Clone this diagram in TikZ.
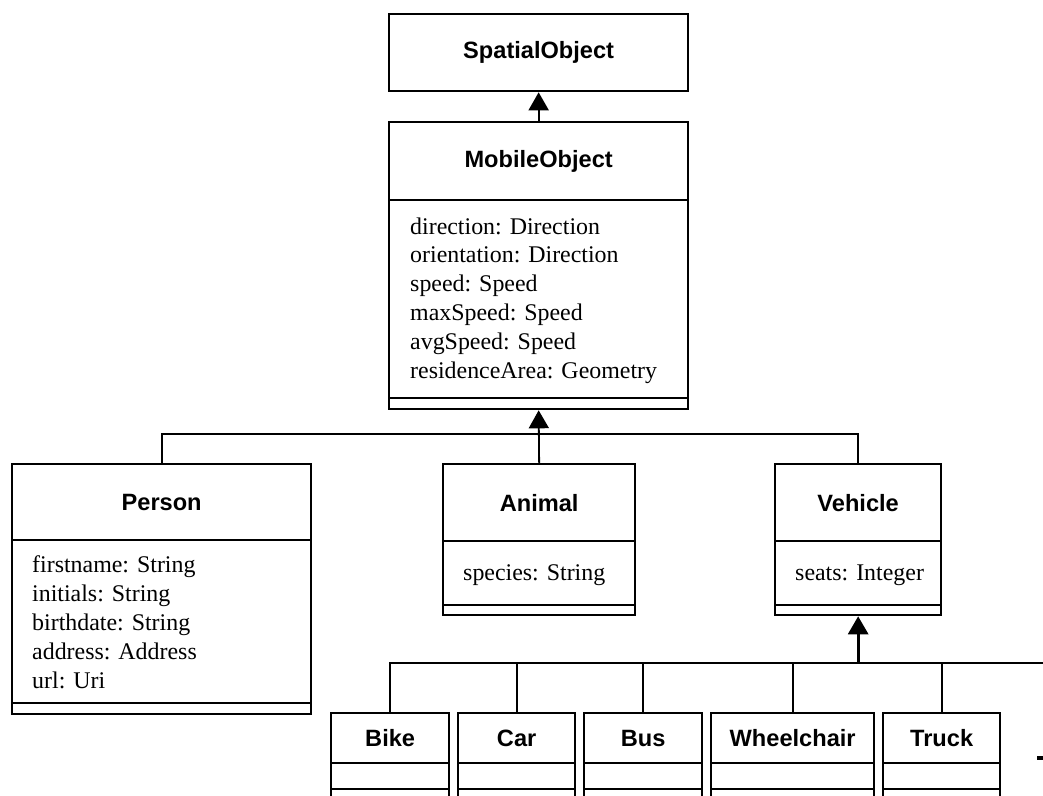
\documentclass[tikz,border=0pt]{standalone}
\usepackage{fontspec}
\setmainfont{Liberation Serif}
\setsansfont{Liberation Sans}
\usetikzlibrary{arrows.meta}
\newcommand\headfont{\sffamily\bfseries\fontsize{23.6}{28}\selectfont}
\newcommand\attrfont{\rmfamily\fontsize{23.9}{28.8}\selectfont}
\tikzset{
  box/.style={draw, line width=2.3pt, inner sep=0pt, anchor=north west, font=\headfont},
  % attribute lists are placed by the baseline of their last line
  attr/.style={anchor=base west, align=left, inner sep=0pt, font=\attrfont},
  conn/.style={line width=1.8pt},
  inherit/.style={line width=1.8pt, -{Triangle[width=20pt,length=18pt]}},
}
% one compartment of a class box: name, x, y, width, height, text
\newcommand\compartment[6]{%
  \node[box, minimum width=#4pt, minimum height=#5pt] (#1) at (#2,#3) {#6};}
\begin{document}
\begin{tikzpicture}[x=1pt,y=-1pt]
\useasboundingbox (0,0) rectangle (1043,795);
\clip (0,0) rectangle (1043,795);

% SpatialObject
\compartment{spatial}{388}{13}{299}{77}{SpatialObject}

% MobileObject
\compartment{mobile-h}{388}{121}{299}{78}{MobileObject}
\compartment{mobile-a}{388}{199}{299}{198}{}
\compartment{mobile-o}{388}{397}{299}{11}{}
\node[attr] (mobile-t) at (410,378) {direction: Direction\\orientation: Direction\\speed: Speed\\maxSpeed: Speed\\avgSpeed: Speed\\residenceArea: Geometry};

% Person
\compartment{person-h}{11}{463}{299}{76}{Person}
\compartment{person-a}{11}{539}{299}{163}{}
\compartment{person-o}{11}{702}{299}{11}{}
\node[attr] (person-t) at (32,688) {firstname: String\\initials: String\\birthdate: String\\address: Address\\url: Uri};

% Animal
\compartment{animal-h}{442}{463}{192}{77}{Animal}
\compartment{animal-a}{442}{540}{192}{64}{}
\compartment{animal-o}{442}{604}{192}{10}{}
\node[attr] (animal-t) at (463,580) {species: String};

% Vehicle
\compartment{vehicle-h}{774}{463}{166}{77}{Vehicle}
\compartment{vehicle-a}{774}{540}{166}{64}{}
\compartment{vehicle-o}{774}{604}{166}{10}{}
\node[attr] (vehicle-t) at (795,580) {seats: Integer};

% Vehicle subclasses
\compartment{bike-h}{330}{712}{118}{50}{Bike}
\compartment{bike-a}{330}{762}{118}{26}{}
\compartment{bike-o}{330}{788}{118}{30}{}
\compartment{car-h}{457}{712}{117}{50}{Car}
\compartment{car-a}{457}{762}{117}{26}{}
\compartment{car-o}{457}{788}{117}{30}{}
\compartment{bus-h}{583}{712}{118}{50}{Bus}
\compartment{bus-a}{583}{762}{118}{26}{}
\compartment{bus-o}{583}{788}{118}{30}{}
\compartment{wheel-h}{710}{712}{163}{50}{Wheelchair}
\compartment{wheel-a}{710}{762}{163}{26}{}
\compartment{wheel-o}{710}{788}{163}{30}{}
\compartment{truck-h}{882}{712}{117}{50}{Truck}
\compartment{truck-a}{882}{762}{117}{26}{}
\compartment{truck-o}{882}{788}{117}{30}{}

% generalisation: MobileObject -> SpatialObject
\draw[inherit] (mobile-h.north) -- (spatial.south);

% generalisation: Person, Animal, Vehicle -> MobileObject
\coordinate (busA) at (0,434);
\draw[conn] (person-h.north) -- (person-h.north |- busA) -- (vehicle-h.north |- busA) -- (vehicle-h.north);
\draw[inherit] (animal-h.north) -- (mobile-o.south);

% generalisation: Bike, Car, Bus, Wheelchair, Truck -> Vehicle
\coordinate (busB) at (0,663);
\coordinate (busEnd) at (1043,663);
\draw[conn] (bike-h.north) -- (bike-h.north |- busB) -- (car-h.north |- busB);
\draw[line width=2.4pt] (car-h.north |- busB) -- (vehicle-o.south |- busB);
\draw[conn] (vehicle-o.south |- busB) -- (busEnd);
\foreach \n in {car,bus,wheel,truck}
  \draw[conn] (\n-h.north) -- (\n-h.north |- busB);
\draw[line width=3pt, -{Triangle[width=20pt,length=18pt]}] (vehicle-o.south |- busB) -- (vehicle-o.south);

% small mark at the right edge
\fill (1037,756) rectangle (1043,760);
\end{tikzpicture}
\end{document}
